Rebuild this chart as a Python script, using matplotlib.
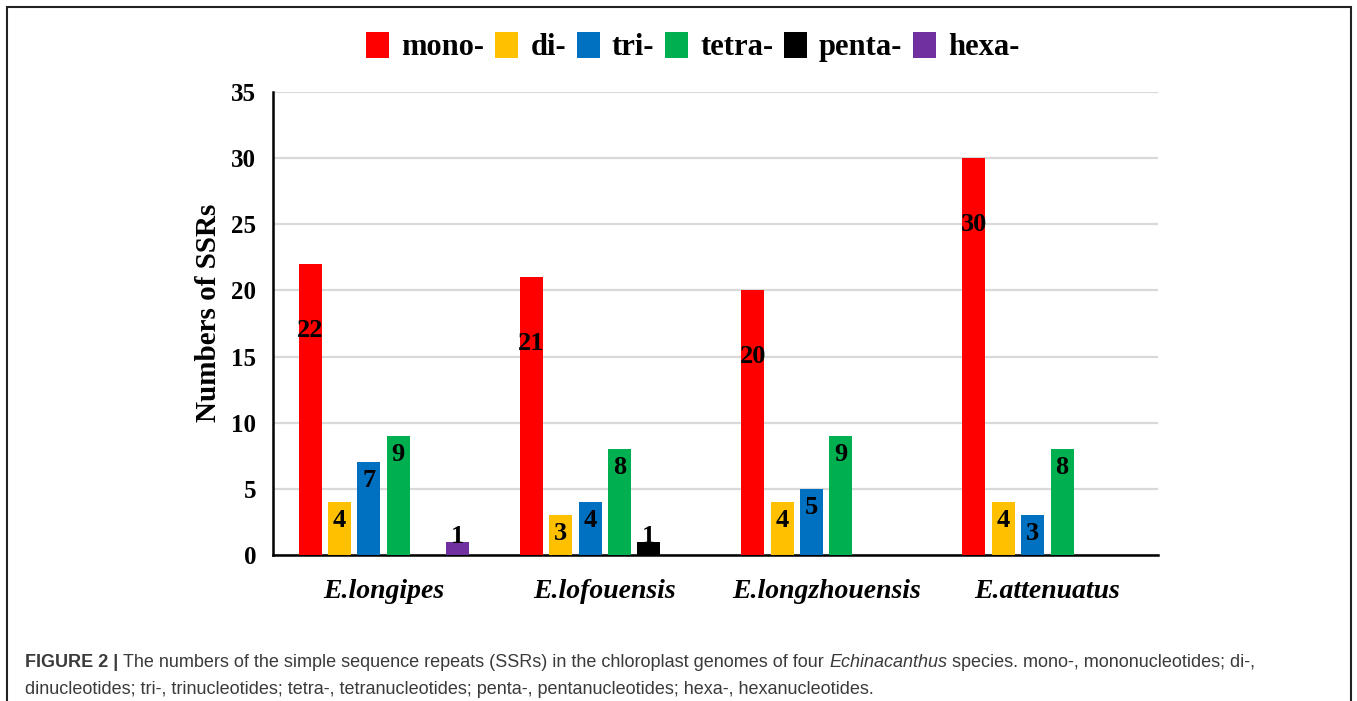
import matplotlib
matplotlib.use("Agg")
import matplotlib.pyplot as plt
from matplotlib.patches import Patch, Rectangle
import numpy as np

species = ["E.longipes", "E.lofouensis", "E.longzhouensis", "E.attenuatus"]
repeat_types = ["mono-", "di-", "tri-", "tetra-", "penta-", "hexa-"]
mono = [22, 21, 20, 30]
di = [4, 3, 4, 4]
tri = [7, 4, 5, 3]
tetra = [9, 8, 9, 8]
penta = [0, 1, 0, 0]
hexa = [1, 0, 0, 0]
colors = ["#FF0000", "#FFC000", "#0070C0", "#00B050", "#000000", "#7030A0"]
y_ticks = [0, 5, 10, 15, 20, 25, 30, 35]

serif = "Liberation Serif"


def label_y(v):
    # labels sit inside the bars, a little below the top
    if v >= 15:
        return v - 5.0
    if v >= 3:
        return v - 1.4
    return v + 0.4


fig = plt.figure(figsize=(13.57, 7.01), dpi=100)
ax = fig.add_axes([273 / 1357, 1 - 555 / 701, (1158 - 273) / 1357, (555 - 92) / 701])

series = [mono, di, tri, tetra, penta, hexa]
x = np.arange(len(species))
pitch = 0.1327
width = 0.104
for i, (name, vals, col) in enumerate(zip(repeat_types, series, colors)):
    pos = x + (i - 2.5) * pitch
    ax.bar(pos, vals, width=width, color=col, label=name, zorder=3)
    for px, v in zip(pos, vals):
        if v > 0:
            ax.text(px, label_y(v), str(v), ha="center", va="center",
                    fontsize=19, fontweight="bold", family=serif, color="black", zorder=4)

ax.set_xlim(-0.5, 3.5)
ax.set_ylim(0, 35)
ax.set_yticks(y_ticks)
ax.set_xticks(x)
ax.set_xticklabels(species, fontsize=20, fontweight="bold", fontstyle="italic", family=serif)
for t in ax.get_yticklabels():
    t.set_fontsize(18)
    t.set_fontweight("bold")
    t.set_family(serif)
ax.tick_params(axis="both", length=0)
ax.tick_params(axis="x", pad=17)
ax.tick_params(axis="y", pad=12)
ax.grid(axis="y", color="#d9d9d9", linewidth=1.6, zorder=0)
ax.set_axisbelow(True)
for s in ["top", "right"]:
    ax.spines[s].set_visible(False)
ax.spines["left"].set_linewidth(1.8)
ax.spines["bottom"].set_linewidth(1.8)
ax.set_ylabel("Numbers of SSRs", fontsize=21, fontweight="bold", family=serif)
ax.yaxis.set_label_coords(-0.058, 0.524)

handles = [Patch(facecolor=c, edgecolor="none") for c in colors]
fig.legend(handles, repeat_types, loc="center", bbox_to_anchor=(693 / 1357, 1 - 47 / 701),
           ncol=6, frameon=False, handlelength=0.75, handleheight=0.95, handletextpad=0.4,
           columnspacing=0.35, prop={"family": serif, "weight": "bold", "size": 22})

# outer frame (bottom edge lies beyond the image)
fig.patches.append(Rectangle((7 / 1357, -0.05), (1351 - 7) / 1357, 1.05 - 7 / 701,
                             transform=fig.transFigure, fill=False, edgecolor="#222222",
                             linewidth=1.5, clip_on=False))

# caption
cap_color = "#3a3a3a"
line1 = [("FIGURE 2 | ", "bold", "normal"),
         ("The numbers of the simple sequence repeats (SSRs) in the chloroplast genomes of four ", "normal", "normal"),
         ("Echinacanthus", "normal", "italic"),
         (" species. mono-, mononucleotides; di-,", "normal", "normal")]
line2 = [("dinucleotides; tri-, trinucleotides; tetra-, tetranucleotides; penta-, pentanucleotides; hexa-, hexanucleotides.",
          "normal", "normal")]

fig.canvas.draw()
renderer = fig.canvas.get_renderer()


def draw_runs(runs, x0, y0, size):
    xp = x0
    for txt, wt, st in runs:
        t = fig.text(xp, y0, txt, fontsize=size, fontweight=wt, fontstyle=st,
                     family="Liberation Sans", color=cap_color, ha="left", va="baseline")
        bb = t.get_window_extent(renderer)
        xp += bb.width / fig.bbox.width
    return xp


cap_size = 13.0
draw_runs(line1, 25 / 1357, 1 - 667 / 701, cap_size)
draw_runs(line2, 25 / 1357, 1 - 694 / 701, cap_size)

fig.savefig("out.png", dpi=100)
